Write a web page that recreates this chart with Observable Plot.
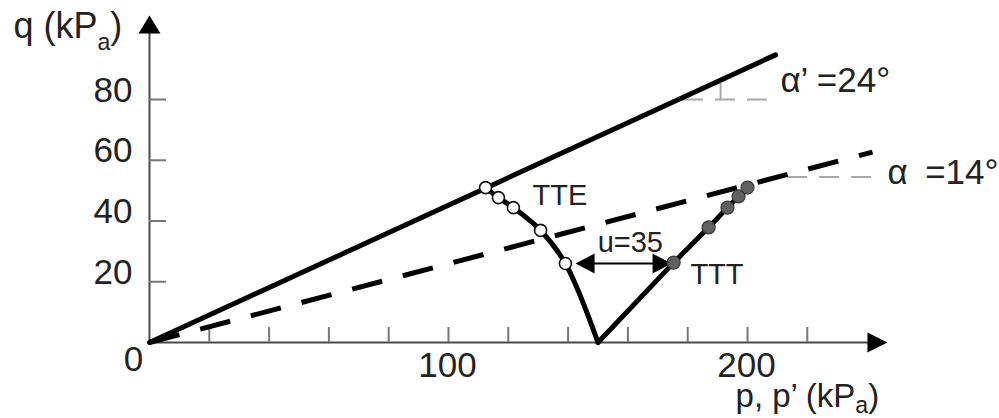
<!DOCTYPE html>
<html>
<head>
<meta charset="utf-8">
<script src="https://cdn.jsdelivr.net/npm/d3@7"></script>
<script src="https://cdn.jsdelivr.net/npm/@observablehq/plot@0.6"></script>
<style>
  html, body { margin: 0; padding: 0; background: #fff; }
  #chart svg { display: block; }
</style>
</head>
<body>
<div id="chart"></div>
<script>
// ---------- data ----------
const xTicks = [20, 40, 60, 80, 100, 120, 140, 160, 180, 200, 220];
const yTicks = [20, 40, 60, 80];
const xTickLabels = [100, 200];
const yTickLabels = [20, 40, 60, 80];
const originLabel = ["0"];

// effective-stress envelope (alpha' = 24°)
const effP = [0, 209.4];
const effQ = [0, 94.7];
// total-stress envelope (alpha = 14°)
const totP = [0, 241.8];
const totQ = [0, 62.7];

// TTE stress path (open circles on the first five points)
const tteP = [112.4, 116.7, 121.7, 130.8, 139.1, 150.0];
const tteQ = [51.0, 47.7, 44.4, 36.9, 26.0, 0];
// TTT stress path (filled circles on the last five points)
const tttP = [150.0, 175.3, 187.0, 193.3, 197.0, 200.0];
const tttQ = [0, 26.3, 37.9, 44.4, 48.1, 51.0];

// pore pressure arrow u = 35
const uP = [142.5, 174.6];
const uQ = 26.0;

// dashed grey reference lines for the angles
const refEffP = [178.6, 208.0], refEffQ = 80;
const refTotP = [213.4, 242.1], refTotQ = 54.5;
const angleTickP = 191, angleTickQ = [80, 85.2];

// axis extents (arrow tips)
const axisMaxP = 246.8;
const axisMaxQ = 107.7;

// ---------- tables ----------
const eff = effP.map((p, i) => ({p, q: effQ[i]}));
const tot = totP.map((p, i) => ({p, q: totQ[i]}));
const tte = tteP.map((p, i) => ({p, q: tteQ[i]}));
const ttt = tttP.map((p, i) => ({p, q: tttQ[i]}));
const tteDots = tte.slice(0, 5);
const tttDots = ttt.slice(1);

// ---------- custom arrowhead symbols (tip at the anchor point) ----------
const headRight = {draw(c) { c.moveTo(0, 0); c.lineTo(-20, -10); c.lineTo(-20, 10); c.closePath(); }};
const headUp = {draw(c) { c.moveTo(0, 0); c.lineTo(-11, 18); c.lineTo(11, 18); c.closePath(); }};
const headLeftS = {draw(c) { c.moveTo(0, 0); c.lineTo(19, -10); c.lineTo(19, 10); c.closePath(); }};
const headRightS = {draw(c) { c.moveTo(0, 0); c.lineTo(-19, -10); c.lineTo(-19, 10); c.closePath(); }};

const FONT = "'Liberation Sans', Arial, Helvetica, sans-serif";
const AXIS = "#4a4a4a";
const TICK = "#777";
const GREY = "#a8a8a8";
const INK = "#000";

const svg = Plot.plot({
  width: 999,
  height: 418,
  marginLeft: 149,
  marginRight: 102.5,
  marginTop: 7.9,
  marginBottom: 76,
  x: {domain: [0, 250], axis: null},
  y: {domain: [0, 110], axis: null},
  style: {fontFamily: FONT, background: "#fff", color: "#1a1a1a", overflow: "visible"},
  marks: [
    // axes
    Plot.ruleY([0], {x1: 0, x2: axisMaxP - 5, stroke: AXIS, strokeWidth: 2}),
    Plot.ruleX([0], {y1: 0, y2: axisMaxQ - 4, stroke: AXIS, strokeWidth: 2}),
    Plot.dot([axisMaxP], {x: d => d, y: 0, symbol: headRight, fill: INK, stroke: "none"}),
    Plot.dot([axisMaxQ], {x: 0, y: d => d, symbol: headUp, fill: INK, stroke: "none"}),
    // inward tick marks
    Plot.ruleX(xTicks, {x: d => d, y1: 0, y2: 0, insetBottom: 15, stroke: TICK, strokeWidth: 2}),
    Plot.ruleY(yTicks, {y: d => d, x1: 0, x2: 0, insetLeft: 17, stroke: TICK, strokeWidth: 2}),

    // grey angle reference lines
    Plot.ruleY([refEffQ], {y: d => d, x1: refEffP[0], x2: refEffP[1], stroke: GREY, strokeWidth: 2, strokeDasharray: "20,12"}),
    Plot.ruleY([refTotQ], {y: d => d, x1: refTotP[0], x2: refTotP[1], stroke: GREY, strokeWidth: 2, strokeDasharray: "20,12"}),
    Plot.ruleX([angleTickP], {x: d => d, y1: angleTickQ[0], y2: angleTickQ[1], stroke: GREY, strokeWidth: 2}),

    // envelopes
    Plot.line(tot, {x: "p", y: "q", stroke: INK, strokeWidth: 5, strokeDasharray: "31,21.4", strokeLinecap: "butt"}),
    Plot.line(eff, {x: "p", y: "q", stroke: INK, strokeWidth: 5}),

    // stress paths
    Plot.line(tte, {x: "p", y: "q", stroke: INK, strokeWidth: 5, strokeLinejoin: "round", curve: "catmull-rom"}),
    Plot.line(ttt, {x: "p", y: "q", stroke: INK, strokeWidth: 5, strokeLinejoin: "round"}),

    // u = 35 double arrow
    Plot.ruleY([uQ], {y: d => d, x1: uP[0] + 3, x2: uP[1] - 3, stroke: INK, strokeWidth: 2}),
    Plot.dot([uP[0]], {x: d => d, y: uQ, symbol: headLeftS, fill: INK, stroke: "none"}),
    Plot.dot([uP[1]], {x: d => d, y: uQ, symbol: headRightS, fill: INK, stroke: "none"}),

    // markers
    Plot.dot(tteDots, {x: "p", y: "q", r: 6, fill: "#fff", stroke: "#111", strokeWidth: 1.6}),
    Plot.dot(tttDots, {x: "p", y: "q", r: 6.5, fill: "#606060", stroke: "#3a3a3a", strokeWidth: 1.2}),

    // tick labels
    Plot.text(yTickLabels, {x: 0, y: d => d, text: d => String(d), textAnchor: "end", dx: -17, dy: -9, fontSize: 35, fill: "#222"}),
    Plot.text(xTickLabels, {x: d => d, y: 0, text: d => String(d), textAnchor: "middle", dx: -1, dy: 23, fontSize: 35, fill: "#222"}),
    Plot.text(originLabel, {x: 0, y: 0, text: d => d, textAnchor: "middle", dx: -16, dy: 17, fontSize: 35, fill: "#222"}),

    // axis titles
    Plot.text(["q (kPa)"], {x: -45.5, y: 104.2, text: d => d, textAnchor: "start", fontSize: 36, fill: "#222"}),
    Plot.text(["p, p\u2019 (kPa)"], {x: 196.0, y: -17.6, text: d => d, textAnchor: "start", fontSize: 33, fill: "#222"}),

    // annotations
    Plot.text(["\u03b1\u2019 =24\u00b0"], {x: 211.0, y: 86.0, text: d => d, textAnchor: "start", fontSize: 35, fill: "#222"}),
    Plot.text(["\u03b1\u2002=14\u00b0"], {x: 246.8, y: 56.0, text: d => d, textAnchor: "start", fontSize: 35, fill: "#222"}),
    Plot.text(["TTE"], {x: 128.1, y: 48.2, text: d => d, textAnchor: "start", fontSize: 29, fill: "#222"}),
    Plot.text(["TTT"], {x: 180.9, y: 22.2, text: d => d, textAnchor: "start", fontSize: 29, fill: "#222"}),
    Plot.text(["u=35"], {x: 160.8, y: 33.0, text: d => d, textAnchor: "middle", fontSize: 29, fill: "#222"})
  ]
});

// subscript "a" in the kPa units
d3.select(svg).selectAll("text").each(function () {
  const t = this.textContent;
  const m = t.match(/^(.*\(kP)a\)$/);
  if (m) {
    const el = d3.select(this);
    const fs = parseFloat(el.attr("font-size")) || 34;
    const drop = m[1].startsWith("p") ? 0.2 : 0.36;
    el.text(null);
    el.append("tspan").text(m[1]);
    el.append("tspan").attr("font-size", fs * 0.68).attr("dy", fs * drop).text("a");
    el.append("tspan").attr("dy", -fs * drop).text(")");
  }
});

document.getElementById("chart").appendChild(svg);
</script>
</body>
</html>
